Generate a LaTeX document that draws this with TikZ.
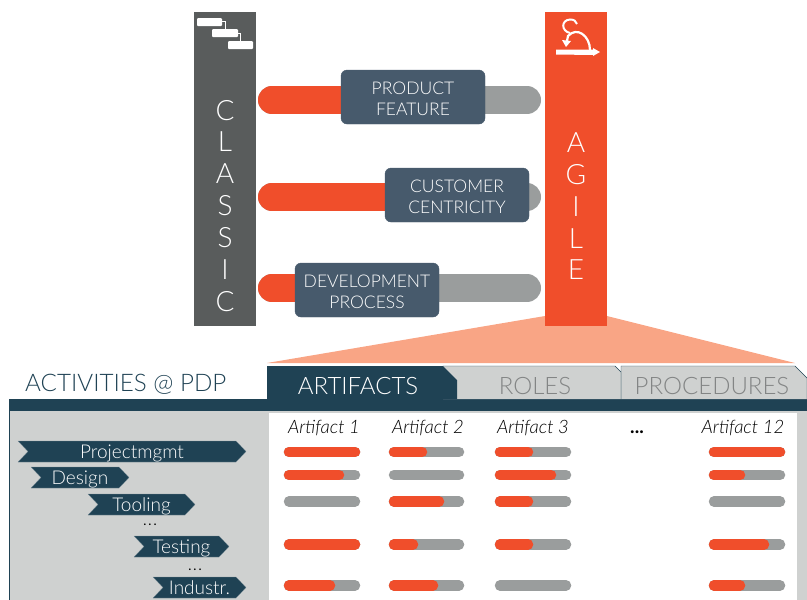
\documentclass[tikz,border=0pt]{standalone}
\usepackage{fontspec}
\setmainfont{Lato}
\newfontfamily\lightfont{Lato Light}
\definecolor{orangered}{HTML}{F04E2B}
\definecolor{salmon}{HTML}{F9A585}
\definecolor{darkteal}{HTML}{1F4254}
\definecolor{slatebox}{HTML}{475A6C}
\definecolor{barblack}{HTML}{9A9D9D}
\definecolor{pilarclassic}{HTML}{595C5C}
\definecolor{panelgrey}{HTML}{CFD1D0}
\begin{document}
\begin{tikzpicture}[
  x=1pt,y=-1pt,
  pillar/.style={text=white,font=\lightfont\fontsize{28}{28}\selectfont,inner sep=0pt},
  topicbox/.style={draw=slatebox,fill=slatebox,rounded corners=6pt,minimum width=144pt,minimum height=54pt,inner sep=0pt},
  topictext/.style={text=white,align=center,inner sep=0pt,font=\lightfont\fontsize{17.5}{21}\selectfont},
  pill/.style={line width=28pt,line cap=round},
  bar/.style={line width=10.5pt,line cap=round},
  tabtext/.style={inner sep=0pt,font=\lightfont\fontsize{24}{24}\selectfont},
  activity/.style={fill=darkteal,draw=darkteal!60!white,very thin},
  activitytext/.style={text=white,inner sep=0pt,anchor=base,font=\lightfont\fontsize{19}{19}\selectfont},
  artifact/.style={inner sep=0pt,anchor=base,font=\lightfont\itshape\fontsize{18.5}{18.5}\selectfont},
  dots/.style={inner sep=0pt,anchor=base,font=\bfseries\fontsize{19}{19}\selectfont},
  smalldots/.style={inner sep=0pt,anchor=base,font=\bfseries\fontsize{11}{11}\selectfont},
  icon/.style={fill=white,rounded corners=1pt},
]
\useasboundingbox (0,0) rectangle (807,600);

%funnel
\fill[salmon] (267,363) -- (545,316) -- (607,316) -- (795,363) -- cycle;

%pillars
\fill[pilarclassic] (194,12) rectangle (256,326);
\fill[orangered] (545,12) rectangle (607,326);
\foreach \name/\letter/\y in {c1/C/111,l/L/142,a/A/174,s1/S/206,s2/S/238,i/I/270,c2/C/302}
  \node[pillar] (classic-\name) at (225,\y) {\letter};
\foreach \name/\letter/\y in {a/A/143,g/G/175,i/I/207,l/L/239,e/E/270}
  \node[pillar] (agile-\name) at (576,\y) {\letter};

%gantt icon
\draw[white,thick] (222,21) -| (225,29) (238,33) -| (240,41);
\fill[icon] (197,18) rectangle (222,26);
\fill[icon] (212,29) rectangle (238,37);
\fill[icon] (228,41) rectangle (253,49);

%sprint icon
\draw[white,line width=2.2pt] (590,50) .. controls (590,36) and (577,26) .. (568,36) -- (567,41);
\fill[white] (562,40) -- (571,41) -- (566,47) -- cycle;
\draw[white,line width=2pt] (570,33) .. controls (561,31) and (561,20) .. (570,19.5) .. controls (574,19.5) and (576,21) .. (577,24);
\fill[white] (556,49.5) -- (593,49.5) -- (593,48) -- (600,52) -- (593,56) -- (593,55) -- (556,54.5) -- cycle;

%pills
\foreach \y/\x in {100/345,197/390,288/300} {
  \draw[pill,barblack] (272,\y) -- (527,\y);
  \draw[pill,orangered] (272,\y) -- (\x,\y);
}
\node[topicbox] (feature) at (413,97) {};
\node[topicbox] (customer) at (457,195) {};
\node[topicbox] (process) at (367,290) {};
\node[topictext] (feature-text) at (413,99) {PRODUCT\\FEATURE};
\node[topictext] (customer-text) at (457,197) {CUSTOMER\\CENTRICITY};
\node[topictext] (process-text) at (367,292) {DEVELOPMENT\\PROCESS};

%panel
\fill[panelgrey] (9,411) rectangle (807,600);
\fill[white] (269,413) rectangle (797,600);
\draw[darkteal,thin] (9.5,411) -- (9.5,600);
\fill[darkteal] (9,399) rectangle (807,411);

%tabs
\filldraw[fill=panelgrey,draw=darkteal] (621,399) -- (621,366) -- (795,366) -- (807,378) -- (807,399);
\filldraw[fill=panelgrey,draw=darkteal] (443,399) -- (443,366) -- (615,366) -- (621,372) -- (621,399);
\fill[darkteal] (267,399) -- (267,366) -- (443,366) -- (457,380) -- (457,399) -- cycle;
\node[tabtext,text=darkteal,anchor=west,font=\lightfont\fontsize{24.2}{24}\selectfont] (activities) at (25,384) {ACTIVITIES @ PDP};
\node[tabtext,text=white] (artifacts) at (358,386) {ARTIFACTS};
\node[tabtext,text=barblack!85!black] (roles) at (535,386) {ROLES};
\node[tabtext,text=barblack!85!black] (procedures) at (712,386) {PROCEDURES};

%activities
\foreach \xa/\xb/\y/\name/\label in {18/246/451.5/pm/Projectmgmt,31/129/477.5/design/Design,88/195/504.5/tooling/Tooling,134/229/546.5/testing/Testing,153/246/587.5/industr/Industr.} {
  \filldraw[activity] (\xa,\y-10.5) -- (\xb-10,\y-10.5) -- (\xb,\y) -- (\xb-10,\y+10.5) -- (\xa,\y+10.5) -- (\xa+10,\y) -- cycle;
  \node[activitytext] (act-\name) at ({(\xa+\xb)/2},\y+7) {\label};
}
\node[smalldots] (dots-a) at (150,525) {.\kern2.5pt.\kern2.5pt.};
\node[smalldots] (dots-b) at (195,570) {.\kern2.5pt.\kern2.5pt.};

%artifact heads
\node[artifact] (head-1) at (324,433) {Artifact 1};
\node[artifact] (head-2) at (428,433) {Artifact 2};
\node[artifact] (head-3) at (533,433) {Artifact 3};
\node[dots,text=black] (head-dots) at (637,433) {...};
\node[artifact] (head-12) at (743,433) {Artifact 12};

%bars
\foreach \y/\a/\b/\c/\d in {
  452/355/422/528/780,
  475/339/0/551/740,
  501.5/0/439/528/0,
  544.5/355/413/528/764,
  585.5/330/433/0/740} {
  \draw[bar,barblack] (289,\y) -- (355,\y);
  \draw[bar,barblack] (394,\y) -- (459,\y);
  \draw[bar,barblack] (500,\y) -- (566,\y);
  \draw[bar,barblack] (714,\y) -- (780,\y);
  \ifnum\a>0 \draw[bar,orangered] (289,\y) -- (\a,\y);\fi
  \ifnum\b>0 \draw[bar,orangered] (394,\y) -- (\b,\y);\fi
  \ifnum\c>0 \draw[bar,orangered] (500,\y) -- (\c,\y);\fi
  \ifnum\d>0 \draw[bar,orangered] (714,\y) -- (\d,\y);\fi
}
\end{tikzpicture}
\end{document}
